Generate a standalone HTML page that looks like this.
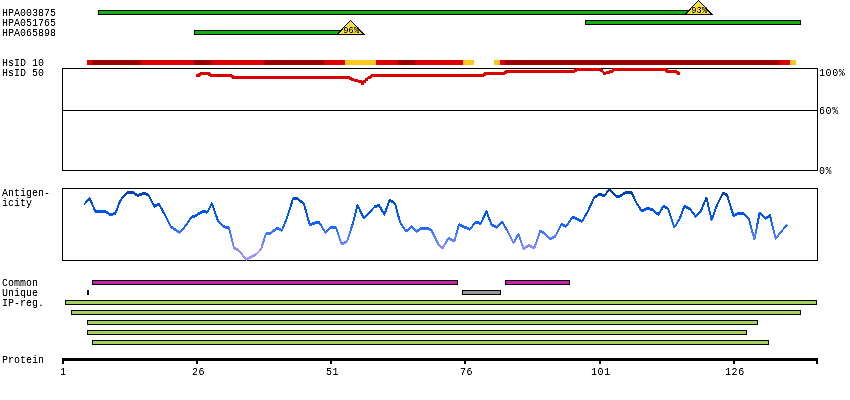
<!DOCTYPE html>
<html><head><meta charset="utf-8"><title>Antigen view</title>
<style>html,body{margin:0;padding:0;background:#fff;width:850px;height:400px;overflow:hidden}svg{display:block}</style>
</head><body>
<svg width="850" height="400" viewBox="0 0 850 400" font-family='"Liberation Mono", "DejaVu Sans Mono", monospace'><defs><filter id="sh" x="-5%" y="-30%" width="110%" height="160%"><feComponentTransfer><feFuncA type="linear" slope="1.55" intercept="-0.22"/></feComponentTransfer></filter></defs><rect x="98" y="10" width="603" height="5" fill="#000"/>
<rect x="99" y="11" width="601" height="3" fill="#10b010"/>
<rect x="585" y="20" width="216" height="5" fill="#000"/>
<rect x="586" y="21" width="214" height="3" fill="#10b010"/>
<rect x="194" y="30" width="157" height="5" fill="#000"/>
<rect x="195" y="31" width="155" height="3" fill="#10b010"/>
<polygon points="698.5,0.5 712.0,14.5 685.0,14.5" fill="#f4de40" stroke="#000" stroke-width="1" shape-rendering="crispEdges"/>
<polygon points="350.5,20.5 364.0,34.5 337.0,34.5" fill="#f4de40" stroke="#000" stroke-width="1" shape-rendering="crispEdges"/>
<rect x="87" y="60" width="5" height="5" fill="#dd0000"/>
<rect x="92" y="60" width="49" height="5" fill="#990000"/>
<rect x="141" y="60" width="53" height="5" fill="#dd0000"/>
<rect x="194" y="60" width="17" height="5" fill="#990000"/>
<rect x="211" y="60" width="53" height="5" fill="#dd0000"/>
<rect x="264" y="60" width="60" height="5" fill="#990000"/>
<rect x="324" y="60" width="21" height="5" fill="#dd0000"/>
<rect x="345" y="60" width="31" height="5" fill="#fcc820"/>
<rect x="376" y="60" width="22" height="5" fill="#dd0000"/>
<rect x="398" y="60" width="17" height="5" fill="#990000"/>
<rect x="415" y="60" width="48" height="5" fill="#dd0000"/>
<rect x="463" y="60" width="11" height="5" fill="#fcc820"/>
<rect x="494" y="60" width="6" height="5" fill="#fcc820"/>
<rect x="500" y="60" width="5" height="5" fill="#dd0000"/>
<rect x="505" y="60" width="274" height="5" fill="#990000"/>
<rect x="779" y="60" width="11" height="5" fill="#dd0000"/>
<rect x="790" y="60" width="6" height="5" fill="#fcc820"/>
<rect x="62" y="68" width="756" height="1" fill="#000"/>
<rect x="62" y="170" width="756" height="1" fill="#000"/>
<rect x="62" y="68" width="1" height="103" fill="#000"/>
<rect x="817" y="68" width="1" height="103" fill="#000"/>
<rect x="62" y="110" width="756" height="1" fill="#000"/>
<path fill="#dd0000" shape-rendering="crispEdges" d="M196,74 L198,74 L198,77 L196,77Z M198,74 L199.5,73 L199.5,76 L198,77Z M199.5,73 L201.5,72 L201.5,75 L199.5,76Z M201.5,72 L208,72 L208,75 L201.5,75Z M208,72 L209.5,73 L209.5,76 L208,75Z M209.5,73 L211,74 L211,77 L209.5,76Z M211,74 L230.5,74 L230.5,77 L211,77Z M230.5,74 L232,75 L232,78 L230.5,77Z M232,75 L233.5,76 L233.5,79 L232,78Z M233.5,76 L348.5,76 L348.5,79 L233.5,79Z M348.5,76 L350.5,77 L350.5,80 L348.5,79Z M350.5,77 L352.5,78 L352.5,81 L350.5,80Z M352.5,78 L355.5,79 L355.5,82 L352.5,81Z M355.5,79 L360.5,80 L360.5,83 L355.5,82Z M360.5,80 L362.5,81.5 L362.5,84.5 L360.5,83Z M362.5,81.5 L364.5,80 L364.5,83 L362.5,84.5Z M364.5,80 L366.5,78 L366.5,81 L364.5,83Z M366.5,78 L369.5,75.5 L369.5,78.5 L366.5,81Z M369.5,75.5 L372.5,74 L372.5,77 L369.5,78.5Z M372.5,74 L482.5,74 L482.5,77 L372.5,77Z M482.5,74 L484,73 L484,76 L482.5,77Z M484,73 L485.5,72 L485.5,75 L484,76Z M485.5,72 L503.5,72 L503.5,75 L485.5,75Z M503.5,72 L505,71 L505,74 L503.5,75Z M505,71 L506,70 L506,73 L505,74Z M506,70 L573.5,70 L573.5,73 L506,73Z M573.5,70 L575,69 L575,72 L573.5,73Z M575,69 L576,68 L576,71 L575,72Z M576,68 L599.5,68 L599.5,71 L576,71Z M599.5,68 L601,69 L601,72 L599.5,71Z M601,69 L604.5,72 L604.5,75 L601,72Z M604.5,72 L608,71 L608,74 L604.5,75Z M608,71 L611.5,69.5 L611.5,72.5 L608,74Z M611.5,69.5 L614.5,68 L614.5,71 L611.5,72.5Z M614.5,68 L664.5,68 L664.5,71 L614.5,71Z M664.5,68 L666,69 L666,72 L664.5,71Z M666,69 L667,70 L667,73 L666,72Z M667,70 L675.5,70 L675.5,73 L667,73Z M675.5,70 L677,71 L677,74 L675.5,73Z M677,71 L678.5,72 L678.5,75 L677,74Z M678.5,72 L680,72 L680,75 L678.5,75Z M196.5,74 h3 v3 h-3Z M198,73 h3 v3 h-3Z M200,72 h3 v3 h-3Z M206.5,72 h3 v3 h-3Z M208,73 h3 v3 h-3Z M209.5,74 h3 v3 h-3Z M229,74 h3 v3 h-3Z M230.5,75 h3 v3 h-3Z M232,76 h3 v3 h-3Z M347,76 h3 v3 h-3Z M349,77 h3 v3 h-3Z M351,78 h3 v3 h-3Z M354,79 h3 v3 h-3Z M359,80 h3 v3 h-3Z M361,81.5 h3 v3 h-3Z M363,80 h3 v3 h-3Z M365,78 h3 v3 h-3Z M368,75.5 h3 v3 h-3Z M371,74 h3 v3 h-3Z M481,74 h3 v3 h-3Z M482.5,73 h3 v3 h-3Z M484,72 h3 v3 h-3Z M502,72 h3 v3 h-3Z M503.5,71 h3 v3 h-3Z M504.5,70 h3 v3 h-3Z M572,70 h3 v3 h-3Z M573.5,69 h3 v3 h-3Z M574.5,68 h3 v3 h-3Z M598,68 h3 v3 h-3Z M599.5,69 h3 v3 h-3Z M603,72 h3 v3 h-3Z M606.5,71 h3 v3 h-3Z M610,69.5 h3 v3 h-3Z M613,68 h3 v3 h-3Z M663,68 h3 v3 h-3Z M664.5,69 h3 v3 h-3Z M665.5,70 h3 v3 h-3Z M674,70 h3 v3 h-3Z M675.5,71 h3 v3 h-3Z M677,72 h3 v3 h-3Z"/>
<rect x="62" y="188" width="756" height="1" fill="#000"/>
<rect x="62" y="260" width="756" height="1" fill="#000"/>
<rect x="62" y="188" width="1" height="73" fill="#000"/>
<rect x="817" y="188" width="1" height="73" fill="#000"/>
<defs><linearGradient id="ag" gradientUnits="userSpaceOnUse" x1="0" y1="188" x2="0" y2="261"><stop offset="0.000" stop-color="#0038a8"/><stop offset="0.110" stop-color="#0046c0"/><stop offset="0.233" stop-color="#0050dd"/><stop offset="0.370" stop-color="#0058f0"/><stop offset="0.507" stop-color="#1462ff"/><stop offset="0.644" stop-color="#4c7cff"/><stop offset="0.726" stop-color="#5c80ff"/><stop offset="0.795" stop-color="#868aff"/><stop offset="0.877" stop-color="#948eff"/><stop offset="1.000" stop-color="#a496ff"/></linearGradient></defs>
<polyline fill="none" stroke="url(#ag)" stroke-width="2" stroke-linejoin="round" shape-rendering="crispEdges" points="84.2,204.5 89.5,198.2 95.5,211.5 105,211.5 111,215 115.5,213.2 119.5,202.5 121.5,199 124,196.2 127.5,192 132,192 138,195.5 143.5,193.2 148.5,195.2 154.5,206.5 159,204.2 165,215 171,227 175,229.4 180,232.6 186,225 191.6,217 195,216 200,213 203,211 207,212.6 212,203.4 218,221 224,226.6 229,228 234,248 239,250.6 246,259.4 251,257 256,254.6 261,249.4 266,233.4 271,233 277,228 282,230.6 288,215 293,198.6 297,198 304,204 309.6,224.6 314,223.4 319,222 325.6,233 331,227 336,227.4 341.6,244 347,241.4 352.4,225 357.6,205 363.6,218 369,213 374.4,207 379,205 384.4,214.6 389.6,200 395,203.4 400,222 406,231.4 411.6,226.6 416.4,231.4 422,228 427,228 431.6,230.6 439,245.4 443,248 448.4,238 454.4,241 459,224.6 465,227.4 470,229.4 475.6,222 481,223.4 486.4,211 491.6,225 497,227.4 502.4,222 508,232 513.6,243 518.4,234 523.6,248.6 529,245.4 534.4,248 540,231.4 544,233 550.4,239 555.6,236 561.6,224 566,226.6 572.4,217 577,219 582,221.4 588,211 594,198 599.6,194 604.4,196 609.6,189 615.6,196 620,196 625.6,192.6 631.6,192.6 636,202 641.6,211 647,208.6 652,209.4 658.4,214.6 663.6,206 668,208.6 674.4,227.4 680,218 684.4,206 690,209 695.6,216.6 701,210.6 706.4,197.6 711.6,220 717,205 723,193.4 727,195 733.6,216 738,213.4 743,213.4 749,219.4 754.4,239.4 759.6,213 765.6,218.6 770,215.4 775.6,238.6 787,224.6"/>
<path fill="url(#ag)" shape-rendering="crispEdges" d="M95.5,210 L105,210 L105,213 L95.5,213Z M105,210 L111,213.5 L111,216.5 L105,213Z M111,213.5 L115.5,211.7 L115.5,214.7 L111,216.5Z M127.5,190.5 L132,190.5 L132,193.5 L127.5,193.5Z M132,190.5 L138,194 L138,197 L132,193.5Z M138,194 L143.5,191.7 L143.5,194.7 L138,197Z M143.5,191.7 L148.5,193.7 L148.5,196.7 L143.5,194.7Z M154.5,205 L159,202.7 L159,205.7 L154.5,208Z M171,225.5 L175,227.9 L175,230.9 L171,228.5Z M175,227.9 L180,231.1 L180,234.1 L175,230.9Z M191.6,215.5 L195,214.5 L195,217.5 L191.6,218.5Z M195,214.5 L200,211.5 L200,214.5 L195,217.5Z M200,211.5 L203,209.5 L203,212.5 L200,214.5Z M203,209.5 L207,211.1 L207,214.1 L203,212.5Z M218,219.5 L224,225.1 L224,228.1 L218,222.5Z M224,225.1 L229,226.5 L229,229.5 L224,228.1Z M234,246.5 L239,249.1 L239,252.1 L234,249.5Z M246,257.9 L251,255.5 L251,258.5 L246,260.9Z M251,255.5 L256,253.1 L256,256.1 L251,258.5Z M266,231.9 L271,231.5 L271,234.5 L266,234.9Z M271,231.5 L277,226.5 L277,229.5 L271,234.5Z M277,226.5 L282,229.1 L282,232.1 L277,229.5Z M293,197.1 L297,196.5 L297,199.5 L293,200.1Z M297,196.5 L304,202.5 L304,205.5 L297,199.5Z M309.6,223.1 L314,221.9 L314,224.9 L309.6,226.1Z M314,221.9 L319,220.5 L319,223.5 L314,224.9Z M331,225.5 L336,225.9 L336,228.9 L331,228.5Z M341.6,242.5 L347,239.9 L347,242.9 L341.6,245.5Z M363.6,216.5 L369,211.5 L369,214.5 L363.6,219.5Z M374.4,205.5 L379,203.5 L379,206.5 L374.4,208.5Z M389.6,198.5 L395,201.9 L395,204.9 L389.6,201.5Z M406,229.9 L411.6,225.1 L411.6,228.1 L406,232.9Z M416.4,229.9 L422,226.5 L422,229.5 L416.4,232.9Z M422,226.5 L427,226.5 L427,229.5 L422,229.5Z M427,226.5 L431.6,229.1 L431.6,232.1 L427,229.5Z M439,243.9 L443,246.5 L443,249.5 L439,246.9Z M448.4,236.5 L454.4,239.5 L454.4,242.5 L448.4,239.5Z M459,223.1 L465,225.9 L465,228.9 L459,226.1Z M465,225.9 L470,227.9 L470,230.9 L465,228.9Z M475.6,220.5 L481,221.9 L481,224.9 L475.6,223.5Z M491.6,223.5 L497,225.9 L497,228.9 L491.6,226.5Z M523.6,247.1 L529,243.9 L529,246.9 L523.6,250.1Z M529,243.9 L534.4,246.5 L534.4,249.5 L529,246.9Z M540,229.9 L544,231.5 L544,234.5 L540,232.9Z M544,231.5 L550.4,237.5 L550.4,240.5 L544,234.5Z M550.4,237.5 L555.6,234.5 L555.6,237.5 L550.4,240.5Z M561.6,222.5 L566,225.1 L566,228.1 L561.6,225.5Z M572.4,215.5 L577,217.5 L577,220.5 L572.4,218.5Z M577,217.5 L582,219.9 L582,222.9 L577,220.5Z M594,196.5 L599.6,192.5 L599.6,195.5 L594,199.5Z M599.6,192.5 L604.4,194.5 L604.4,197.5 L599.6,195.5Z M615.6,194.5 L620,194.5 L620,197.5 L615.6,197.5Z M620,194.5 L625.6,191.1 L625.6,194.1 L620,197.5Z M625.6,191.1 L631.6,191.1 L631.6,194.1 L625.6,194.1Z M641.6,209.5 L647,207.1 L647,210.1 L641.6,212.5Z M647,207.1 L652,207.9 L652,210.9 L647,210.1Z M652,207.9 L658.4,213.1 L658.4,216.1 L652,210.9Z M663.6,204.5 L668,207.1 L668,210.1 L663.6,207.5Z M684.4,204.5 L690,207.5 L690,210.5 L684.4,207.5Z M723,191.9 L727,193.5 L727,196.5 L723,194.9Z M733.6,214.5 L738,211.9 L738,214.9 L733.6,217.5Z M738,211.9 L743,211.9 L743,214.9 L738,214.9Z M743,211.9 L749,217.9 L749,220.9 L743,214.9Z M759.6,211.5 L765.6,217.1 L765.6,220.1 L759.6,214.5Z M765.6,217.1 L770,213.9 L770,216.9 L765.6,220.1Z"/>
<rect x="92" y="280" width="366" height="5" fill="#000"/>
<rect x="93" y="281" width="364" height="3" fill="#cc22aa"/>
<rect x="505" y="280" width="65" height="5" fill="#000"/>
<rect x="506" y="281" width="63" height="3" fill="#cc22aa"/>
<rect x="87" y="290" width="2" height="5" fill="#000"/>
<rect x="462" y="290" width="39" height="5" fill="#000"/>
<rect x="463" y="291" width="37" height="3" fill="#999999"/>
<rect x="65" y="300" width="752" height="5" fill="#000"/>
<rect x="66" y="301" width="750" height="3" fill="#a3d15f"/>
<rect x="71" y="310" width="730" height="5" fill="#000"/>
<rect x="72" y="311" width="728" height="3" fill="#a3d15f"/>
<rect x="87" y="320" width="671" height="5" fill="#000"/>
<rect x="88" y="321" width="669" height="3" fill="#a3d15f"/>
<rect x="87" y="330" width="660" height="5" fill="#000"/>
<rect x="88" y="331" width="658" height="3" fill="#a3d15f"/>
<rect x="92" y="340" width="677" height="5" fill="#000"/>
<rect x="93" y="341" width="675" height="3" fill="#a3d15f"/>
<rect x="62" y="358" width="756" height="3" fill="#000"/>
<rect x="62" y="361" width="2" height="3" fill="#000"/>
<rect x="196" y="361" width="2" height="3" fill="#000"/>
<rect x="330" y="361" width="2" height="3" fill="#000"/>
<rect x="464" y="361" width="2" height="3" fill="#000"/>
<rect x="599" y="361" width="2" height="3" fill="#000"/>
<rect x="733" y="361" width="2" height="3" fill="#000"/>
<rect x="816" y="361" width="2" height="3" fill="#000"/>
<g filter="url(#sh)"><text x="2" y="16" font-size="10">HPA003875</text>
<text x="2" y="26" font-size="10">HPA051765</text>
<text x="2" y="36" font-size="10">HPA065898</text>
<text x="2" y="66" font-size="10">HsID 10</text>
<text x="2" y="76" font-size="10">HsID 50</text>
<text x="2" y="196" font-size="10">Antigen-</text>
<text x="2" y="206" font-size="10">icity</text>
<text x="2" y="286" font-size="10">Common</text>
<text x="2" y="296" font-size="10">Unique</text>
<text x="2" y="306" font-size="10">IP-reg.</text>
<text x="2" y="363" font-size="10">Protein</text>
<text x="699.3" y="13.0" font-size="8.6" text-anchor="middle" letter-spacing="0.2">93%</text>
<text x="351.3" y="33.0" font-size="8.6" text-anchor="middle" letter-spacing="0.2">96%</text>
<text x="819" y="76" font-size="10" letter-spacing="0.6">100%</text>
<text x="819" y="114" font-size="10" letter-spacing="0.6">60%</text>
<text x="819" y="174" font-size="10" letter-spacing="0.6">0%</text>
<text x="60" y="375" font-size="10" letter-spacing="0.6">1</text>
<text x="192" y="375" font-size="10" letter-spacing="0.6">26</text>
<text x="326" y="375" font-size="10" letter-spacing="0.6">51</text>
<text x="460" y="375" font-size="10" letter-spacing="0.6">76</text>
<text x="591" y="375" font-size="10" letter-spacing="0.6">101</text>
<text x="725" y="375" font-size="10" letter-spacing="0.6">126</text></g></svg>
</body></html>
